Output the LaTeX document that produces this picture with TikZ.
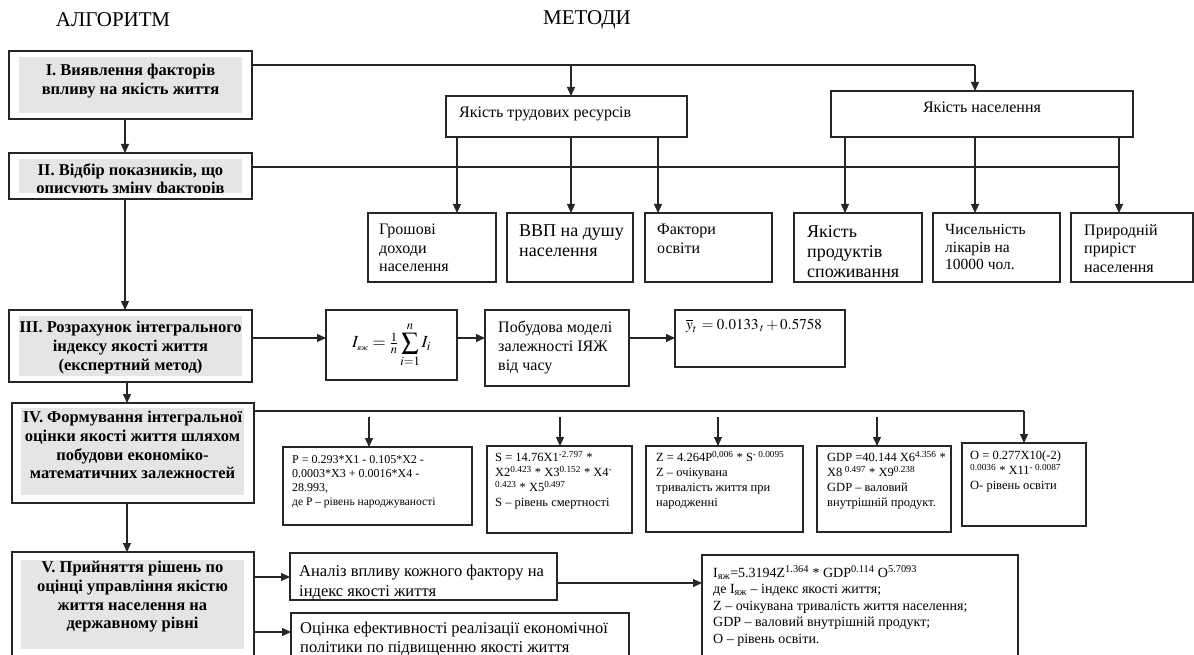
\documentclass[tikz,border=0pt]{standalone}
\usepackage{amsmath}
\usepackage{mathptmx}
\usepackage{fontspec}
\setmainfont{Liberation Serif}
\usetikzlibrary{arrows.meta,calc}
\tikzset{
 bx/.style={draw=black!85, line width=1.1pt, fill=white, anchor=north west, inner sep=0pt, outer sep=0pt},
 gr/.style={fill=black!10, draw=none, anchor=north west, inner sep=0pt, outer sep=0pt},
 ttl/.style={font=\fontsize{21}{24}\selectfont, inner sep=0pt},
 hd/.style={font=\fontsize{16.5}{18.7}\selectfont\bfseries, align=center, inner sep=0pt, anchor=north},
 tx/.style={font=\fontsize{16}{18.5}\selectfont, align=left, inner sep=0pt, anchor=north west},
 tl/.style={font=\fontsize{18}{20}\selectfont, align=left, inner sep=0pt, anchor=north west},
 sm/.style={font=\fontsize{12.5}{15}\selectfont, align=left, inner sep=0pt, anchor=north west},
 md/.style={font=\fontsize{14}{16.5}\selectfont, align=left, inner sep=0pt, anchor=north west},
 ln/.style={draw=black!85, line width=1.1pt},
 ar/.style={ln, -{Triangle[length=9pt,width=8pt]}},
}
\newcommand\mkbox[6][bx]{%
 \pgfmathsetmacro\bw{#5-#3}\pgfmathsetmacro\bh{#6-#4}%
 \node[#1, minimum width=\bw pt, minimum height=\bh pt] (#2) at (#3,#4) {};}
\begin{document}
\begin{tikzpicture}[x=1pt,y=-1pt]
\useasboundingbox (0,0) rectangle (1194,655);
\node[ttl] (alg) at (113,20) {АЛГОРИТМ};
\node[ttl] (met) at (587,20) {МЕТОДИ};

% ---- algorithm stages
\mkbox{s1}{9}{51}{252}{119}
\mkbox[gr]{g1}{19}{57}{242}{113}
\node[hd] (t1) at (130.5,64) {I. Виявлення факторів\\впливу на якість життя};

\mkbox{s2}{9}{153}{252}{199}
\mkbox[gr]{g2}{19}{159}{242}{193}
\begin{scope}
\clip (19,159) rectangle (242,193);
\node[hd] (t2) at (130.5,163) {II. Відбір показників, що\\описують зміну факторів};
\end{scope}

\mkbox{s3}{9}{310}{252}{382}
\mkbox[gr]{g3}{19}{316}{242}{376}
\node[hd] (t3) at (130.5,321) {III. Розрахунок інтегрального\\індексу якості життя\\(експертний метод)};

\mkbox{s4}{12}{403}{254}{503}
\mkbox[gr]{g4}{21}{408}{244}{495}
\node[hd] (t4) at (132.5,411) {IV. Формування інтегральної\\оцінки якості життя шляхом\\побудови економіко-\\математичних залежностей};

\mkbox{s5}{12}{552}{254}{668}
\mkbox[gr]{g5}{21}{560}{244}{649}
\node[hd] (t5) at (132.5,561) {V. Прийняття рішень по\\оцінці управління якістю\\життя населення на\\державному рівні};

% ---- methods, level 1
\mkbox{tr}{446}{96}{687}{137}
\node[tx] (ttr) at (459,107) {Якість трудових ресурсів};
\mkbox{pop}{831}{91}{1133}{137}
\node[tx, anchor=north] (tpop) at (982,102) {Якість населення};

% ---- level 2 boxes
\mkbox{b1}{368}{213}{496}{282}
\node[tx] (tb1) at (379,224) {Грошові\\доходи\\населення};
\mkbox{b2}{507}{213}{633}{282}
\node[tl] (tb2) at (519,225) {ВВП на душу\\населення};
\mkbox{b3}{645}{213}{772}{282}
\node[tx] (tb3) at (657,224) {Фактори\\освіти};
\mkbox{b4}{794}{213}{922}{282}
\node[tl] (tb4) at (807,225) {Якість\\продуктів\\споживання};
\mkbox{b5}{933}{213}{1060}{282}
\node[tx, font=\fontsize{15.5}{17.6}\selectfont] (tb5) at (945,224) {Чисельність\\лікарів на\\10000 чол.};
\mkbox{b6}{1071}{213}{1193}{282}
\node[tx] (tb6) at (1084,224) {Природній\\приріст\\населення};

% ---- row III
\mkbox{fb}{326}{310}{457}{380}
\node[font=\fontsize{17}{20}\selectfont, inner sep=0pt] (ft) at (fb.center) {$\displaystyle I_{\mbox{\fontsize{8}{8}\selectfont\itshape яж}} = \tfrac{1}{n}\sum_{i=1}^{n} I_i$};
\mkbox{pb}{485}{310}{629}{386}
\node[tx, font=\fontsize{16}{19}\selectfont] (tpb) at (498,321) {Побудова моделі\\залежності ІЯЖ\\від часу};
\mkbox{yb}{675}{310}{845}{367}
\node[font=\fontsize{15}{18}\selectfont, inner sep=0pt, anchor=west] (tyb) at (686,326) {$\overline{y}_t\, = 0.0133\,{}_t + 0.5758$};

% ---- row IV
\mkbox{pbx}{283}{447}{472}{525}
\node[sm, font=\fontsize{12}{14.2}\selectfont] (tpbx) at (292,455) {P = 0.293*X1 - 0.105*X2 -\\0.0003*X3 + 0.0016*X4 -\\28.993,\\{\fontsize{11.5}{14.2}\selectfont де P – рівень народжуваності}};
\mkbox{sbx}{487}{446}{632}{533}
\node[sm] (tsbx) at (495,451) {S = 14.76X1\textsuperscript{-2.797} *\\X2\textsuperscript{0.423} * X3\textsuperscript{0.152} * X4\textsuperscript{-}\\\textsuperscript{0.423} * X5\textsuperscript{0.497}\\S – рівень смертності};
\mkbox{zbx}{646}{446}{803}{532}
\node[sm] (tzbx) at (656,451) {Z = 4.264P\textsuperscript{0,006} * S\textsuperscript{- 0.0095}\\Z – очікувана\\тривалість життя при\\народженні};
\mkbox{gbx}{817}{446}{951}{532}
\node[sm] (tgbx) at (827,451) {GDP =40.144 X6\textsuperscript{4.356} *\\X8\textsuperscript{ 0.497} * X9\textsuperscript{0.238}\\GDP – валовий\\внутрішній продукт.};
\mkbox{obx}{962}{443}{1086}{526}
\node[sm] (tobx) at (970,451) {O = 0.277X10(-2)\\\textsuperscript{0.0036} * X11\textsuperscript{- 0.0087}\\O- рівень освіти};

% ---- row V
\mkbox{an}{290}{553}{557}{600}
\node[tx, font=\fontsize{16.5}{19.5}\selectfont] (tan) at (299,565) {Аналіз впливу кожного фактору на\\індекс якості життя};
\mkbox{oc}{291}{613}{629}{668}
\node[tx, font=\fontsize{16.5}{18.5}\selectfont] (toc) at (300,622) {Оцінка ефективності реалізації економічної\\політики по підвищенню якості життя};
\mkbox{ib}{702}{555}{1018}{668}
\node[md] (tib) at (713,565) {I\textsubscript{яж}=5.3194Z\textsuperscript{1.364} * GDP\textsuperscript{0.114} O\textsuperscript{5.7093}\\де I\textsubscript{яж} – індекс якості життя;\\Z – очікувана тривалість життя населення;\\GDP – валовий внутрішній продукт;\\O – рівень освіти.};

% ---- connectors
\coordinate (ax) at (125,0);
\coordinate (ax4) at (127,0);
\draw[ar] (s1.south -| ax) -- (s2.north -| ax);
\draw[ar] (s2.south -| ax) -- (s3.north -| ax);
\draw[ar] (s3.south -| ax4) -- (s4.north -| ax4);
\draw[ar] (s4.south -| ax4) -- (s5.north -| ax4);

\coordinate (j1) at (571,65);
\coordinate (j2) at (975,65);
\draw[ln] (s1.east |- j1) -- (j2);
\draw[ar] (j1) -- (tr.north -| j1);
\draw[ar] (j2) -- (pop.north -| j2);

\coordinate (j3) at (1119,167);
\draw[ln] (s2.east |- j3) -- (j3);

\coordinate (x1) at (457,0);
\coordinate (x3) at (658,0);
\coordinate (x4) at (845,0);
\draw[ar] (tr.south -| x1) -- (b1.north -| x1);
\draw[ar] (tr.south -| j1) -- (b2.north -| j1);
\draw[ar] (tr.south -| x3) -- (b3.north -| x3);
\draw[ar] (pop.south -| x4) -- (b4.north -| x4);
\draw[ar] (pop.south -| j2) -- (b5.north -| j2);
\draw[ar] (pop.south -| j3) -- (b6.north -| j3);

\coordinate (r3) at (0,338);
\draw[ar] (s3.east |- r3) -- (fb.west |- r3);
\draw[ar] (fb.east |- r3) -- (pb.west |- r3);
\draw[ar] (pb.east |- r3) -- (yb.west |- r3);

\coordinate (j4) at (1024,411);
\draw[ln] (s4.east |- j4) -- (j4);
\draw[ar] (j4) -- (obx.north -| j4);
\coordinate (d1) at (369,417);
\coordinate (d2) at (560,417);
\coordinate (d3) at (718,417);
\coordinate (d4) at (877,417);
\draw[ar] (d1) -- (pbx.north -| d1);
\draw[ar] (d2) -- (sbx.north -| d2);
\draw[ar] (d3) -- (zbx.north -| d3);
\draw[ar] (d4) -- (gbx.north -| d4);

\coordinate (r5a) at (0,577);
\coordinate (r5b) at (0,632);
\coordinate (r5c) at (0,583);
\draw[ar] (s5.east |- r5a) -- (an.west |- r5a);
\draw[ar] (s5.east |- r5b) -- (oc.west |- r5b);
\draw[ar] (an.east |- r5c) -- (ib.west |- r5c);
\end{tikzpicture}
\end{document}
